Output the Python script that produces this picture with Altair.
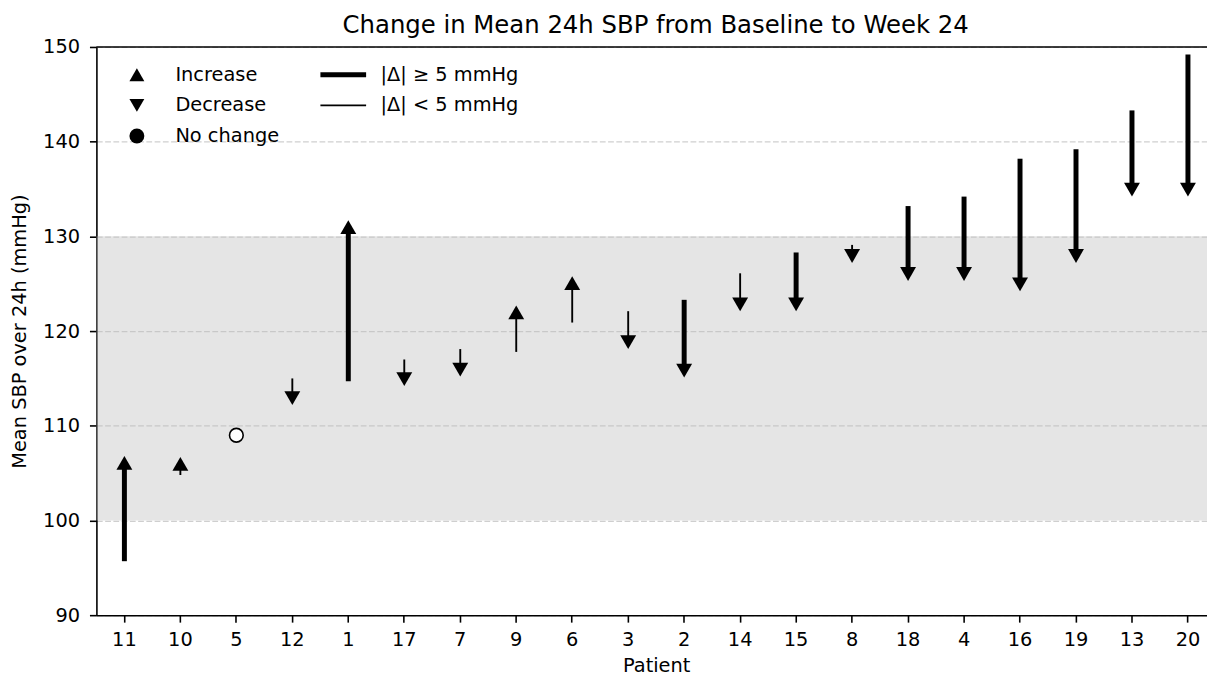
import altair as alt
import pandas as pd

# ---- data ----
patients = ["11", "10", "5", "12", "1", "17", "7", "9", "6", "3",
            "2", "14", "15", "8", "18", "4", "16", "19", "13", "20"]
baseline = [95.7, 104.8, 109.0, 115.0, 114.7, 117.0, 118.1, 117.8, 120.9, 122.1,
            123.3, 126.1, 128.3, 129.1, 133.2, 134.2, 138.2, 139.2, 143.3, 149.2]
week24 = [106.8, 106.7, 109.0, 112.2, 131.7, 114.2, 115.2, 122.7, 125.8, 118.1,
          115.1, 122.1, 122.1, 127.2, 125.3, 125.3, 124.2, 127.2, 134.2, 134.2]

Y_TICKS = [90, 100, 110, 120, 130, 140, 150]
NORMAL_LOW, NORMAL_HIGH = 100, 130
THRESH = 5

DIR_LABELS = ["Increase", "Decrease", "No change"]
MAG_LABELS = ["|Δ| ≥ 5 mmHg", "|Δ| < 5 mmHg"]

rows = []
for p, b, w in zip(patients, baseline, week24):
    d = w - b
    if abs(d) < 1e-9:
        direction = "No change"
    elif d > 0:
        direction = "Increase"
    else:
        direction = "Decrease"
    sign = 1 if d > 0 else (-1 if d < 0 else 0)
    rows.append({
        "patient": p, "base": b, "wk24": w, "dir": direction,
        "mag": MAG_LABELS[0] if abs(d) >= THRESH else MAG_LABELS[1],
        "shaft_end": w - sign * 1.2,
    })
df = pd.DataFrame(rows)
band_df = pd.DataFrame({"lo": [NORMAL_LOW], "hi": [NORMAL_HIGH]})

FONT = "DejaVu Sans"
W, H = 1118, 572

x_scale = alt.Scale(domain=patients, range=[0, 1127], paddingInner=0, paddingOuter=0)
x_axis = alt.Axis(labelAngle=0, title="Patient", grid=False)
X = alt.X("patient:N", sort=patients, scale=x_scale, axis=x_axis)

y_scale = alt.Scale(domain=[90, 150], nice=False, zero=False)
y_axis = alt.Axis(values=Y_TICKS, grid=True, gridDash=[5.8, 2.5],
                  gridColor="#cfcfcf", gridWidth=1.2)
YT = "Mean SBP over 24h (mmHg)"

band = alt.Chart(band_df).mark_rect(color="#bfbfbf", opacity=0.4).encode(
    y=alt.Y("lo:Q", scale=y_scale, axis=y_axis, title=YT),
    y2="hi:Q",
)

top_spine = alt.Chart(band_df).mark_rule(color="black", strokeWidth=1.6).encode(
    y=alt.datum(150)
)

shafts = alt.Chart(df).transform_filter(
    alt.datum.dir != "No change"
).mark_rule(color="black", strokeCap="butt").encode(
    x=X,
    y=alt.Y("base:Q", scale=y_scale, axis=y_axis, title=YT),
    y2="shaft_end:Q",
    strokeWidth=alt.StrokeWidth(
        "mag:N",
        scale=alt.Scale(domain=MAG_LABELS, range=[5, 1.9]),
        legend=alt.Legend(
            title=None, orient="none", legendX=223, legendY=18,
            symbolSize=2116, symbolType="stroke", clipHeight=20,
            rowPadding=10.8, padding=0, labelOffset=12,
            labelFontSize=19.5, labelFont=FONT, labelColor="black",
            symbolStrokeColor="black",
        ),
    ),
)

shape_scale = alt.Scale(domain=DIR_LABELS, range=["triangle-up", "triangle-down", "circle"])
shape_legend = alt.Legend(
    title=None, orient="none", legendX=31, legendY=18,
    symbolSize=225, clipHeight=20, rowPadding=10.8, padding=0,
    labelOffset=29, labelFontSize=19.5, labelFont=FONT, labelColor="black",
    symbolFillColor="black", symbolStrokeColor="black", symbolOpacity=1,
)

heads_up = alt.Chart(df).transform_filter(
    alt.datum.dir == "Increase"
).mark_point(filled=True, color="black", size=256, opacity=1, yOffset=6.93, strokeWidth=0).encode(
    x=X,
    y=alt.Y("wk24:Q", scale=y_scale, axis=y_axis, title=YT),
    shape=alt.Shape("dir:N", scale=shape_scale, legend=shape_legend),
)

heads_down = alt.Chart(df).transform_filter(
    alt.datum.dir == "Decrease"
).mark_point(filled=True, color="black", size=256, opacity=1, yOffset=-6.93, strokeWidth=0).encode(
    x=X,
    y=alt.Y("wk24:Q", scale=y_scale, axis=y_axis, title=YT),
    shape=alt.Shape("dir:N", scale=shape_scale, legend=shape_legend),
)

nochange = alt.Chart(df).transform_filter(
    alt.datum.dir == "No change"
).mark_point(filled=True, fill="white", stroke="black", strokeWidth=1.6, size=190, opacity=1).encode(
    x=X,
    y=alt.Y("wk24:Q", scale=y_scale, axis=y_axis, title=YT),
    shape=alt.Shape("dir:N", scale=shape_scale, legend=shape_legend),
)

chart = alt.layer(band, top_spine, shafts, heads_up, heads_down, nochange).properties(
    width=W, height=H,
    padding={"left": 89, "top": 37, "right": 0, "bottom": 59},
    autosize=alt.AutoSizeParams(type="none"),
    title=alt.Title("Change in Mean 24h SBP from Baseline to Week 24",
                    font=FONT, fontSize=24.5, fontWeight="normal", color="black",
                    anchor="middle", offset=-1, dx=4),
).configure_view(stroke=None).configure_axis(
    labelFont=FONT, titleFont=FONT, labelFontSize=19.5, titleFontSize=19.5,
    labelColor="black", titleColor="black", titleFontWeight="normal",
    domainColor="black", domainWidth=1.6, tickColor="black", tickWidth=1.6,
    tickSize=7,
).configure_axisX(titlePadding=7, labelPadding=9).configure_axisY(titlePadding=13, labelPadding=10)

chart.save("out.html", embed_options={"renderer": "svg", "actions": False})
